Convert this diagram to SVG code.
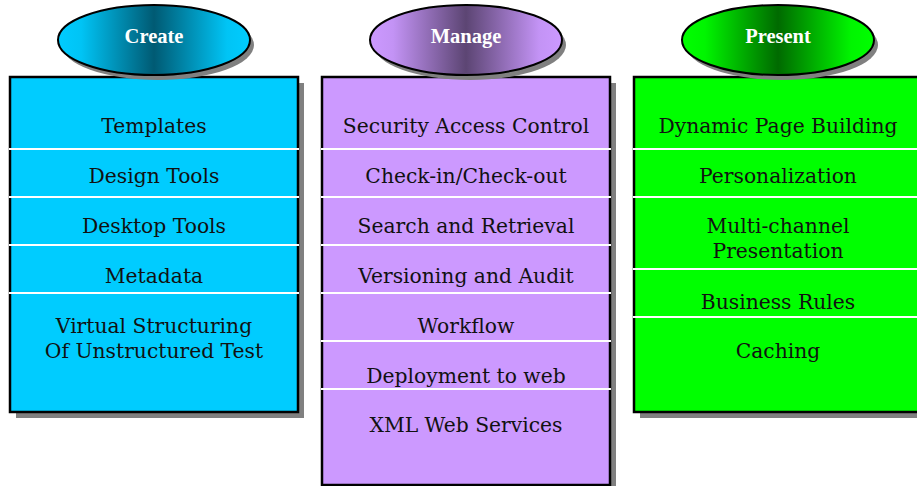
<svg xmlns="http://www.w3.org/2000/svg" width="917" height="486" viewBox="0 0 917 486">
<defs>
<linearGradient id="gC" x1="0" y1="0" x2="1" y2="0">
<stop offset="0" stop-color="#00CCFF"/><stop offset="0.12" stop-color="#00C4F5"/><stop offset="0.5" stop-color="#005A73"/><stop offset="0.88" stop-color="#00C4F5"/><stop offset="1" stop-color="#00CCFF"/>
</linearGradient>
<linearGradient id="gM" x1="0" y1="0" x2="1" y2="0">
<stop offset="0" stop-color="#CC99FF"/><stop offset="0.12" stop-color="#C393F5"/><stop offset="0.5" stop-color="#5C4573"/><stop offset="0.88" stop-color="#C393F5"/><stop offset="1" stop-color="#CC99FF"/>
</linearGradient>
<linearGradient id="gP" x1="0" y1="0" x2="1" y2="0">
<stop offset="0" stop-color="#00FF00"/><stop offset="0.12" stop-color="#00F500"/><stop offset="0.5" stop-color="#006A00"/><stop offset="0.88" stop-color="#00F500"/><stop offset="1" stop-color="#00FF00"/>
</linearGradient>
</defs>
<style>
.shadow{fill:#808080}
.box{stroke:#000;stroke-width:2.5}
.sep{stroke:#fff;stroke-width:2}
.cell{font-family:"DejaVu Serif",serif;font-size:20.3px;fill:#111;text-anchor:middle}
.head{font-family:"Liberation Serif","Times New Roman",serif;font-weight:bold;font-size:20.5px;fill:#fff;text-anchor:middle}
.oval{stroke:#000;stroke-width:2}
</style>
<g id="create">
<rect class="shadow" x="16" y="83" width="288" height="335"/>
<rect class="box" x="10" y="77" width="288" height="335" fill="#00CCFF"/>
<line class="sep" x1="9" y1="149" x2="299" y2="149"/>
<line class="sep" x1="9" y1="197" x2="299" y2="197"/>
<line class="sep" x1="9" y1="245" x2="299" y2="245"/>
<line class="sep" x1="9" y1="293" x2="299" y2="293"/>
<text class="cell" x="154" y="133">Templates</text>
<text class="cell" x="154" y="183">Design Tools</text>
<text class="cell" x="154" y="233">Desktop Tools</text>
<text class="cell" x="154" y="283">Metadata</text>
<text class="cell" x="154" y="333">Virtual Structuring</text>
<text class="cell" x="154" y="358">Of Unstructured Test</text>
<ellipse class="shadow" cx="158" cy="45" rx="96" ry="35"/>
<ellipse class="oval" cx="154" cy="40" rx="96" ry="35" fill="url(#gC)"/>
<text class="head" x="154" y="43">Create</text>
</g>
<g id="manage">
<rect class="shadow" x="328" y="83" width="288" height="410"/>
<rect class="box" x="322" y="77" width="288" height="408" fill="#CC99FF"/>
<line class="sep" x1="321" y1="149" x2="611" y2="149"/>
<line class="sep" x1="321" y1="197" x2="611" y2="197"/>
<line class="sep" x1="321" y1="245" x2="611" y2="245"/>
<line class="sep" x1="321" y1="293" x2="611" y2="293"/>
<line class="sep" x1="321" y1="341" x2="611" y2="341"/>
<line class="sep" x1="321" y1="389" x2="611" y2="389"/>
<text class="cell" x="466" y="133">Security Access Control</text>
<text class="cell" x="466" y="183">Check-in/Check-out</text>
<text class="cell" x="466" y="233">Search and Retrieval</text>
<text class="cell" x="466" y="283">Versioning and Audit</text>
<text class="cell" x="466" y="333">Workflow</text>
<text class="cell" x="466" y="383">Deployment to web</text>
<text class="cell" x="466" y="432">XML Web Services</text>
<ellipse class="shadow" cx="470" cy="45" rx="96" ry="35"/>
<ellipse class="oval" cx="466" cy="40" rx="96" ry="35" fill="url(#gM)"/>
<text class="head" x="466" y="43">Manage</text>
</g>
<g id="present">
<rect class="shadow" x="640" y="83" width="288" height="335"/>
<rect class="box" x="634" y="77" width="288" height="335" fill="#00FF00"/>
<line class="sep" x1="633" y1="149" x2="923" y2="149"/>
<line class="sep" x1="633" y1="197" x2="923" y2="197"/>
<line class="sep" x1="633" y1="269" x2="923" y2="269"/>
<line class="sep" x1="633" y1="317" x2="923" y2="317"/>
<text class="cell" x="778" y="133">Dynamic Page Building</text>
<text class="cell" x="778" y="183">Personalization</text>
<text class="cell" x="778" y="233">Multi-channel</text>
<text class="cell" x="778" y="258">Presentation</text>
<text class="cell" x="778" y="309">Business Rules</text>
<text class="cell" x="778" y="358">Caching</text>
<ellipse class="shadow" cx="782" cy="45" rx="96" ry="35"/>
<ellipse class="oval" cx="778" cy="40" rx="96" ry="35" fill="url(#gP)"/>
<text class="head" x="778" y="43">Present</text>
</g>
<g id="connectors"/>
</svg>
